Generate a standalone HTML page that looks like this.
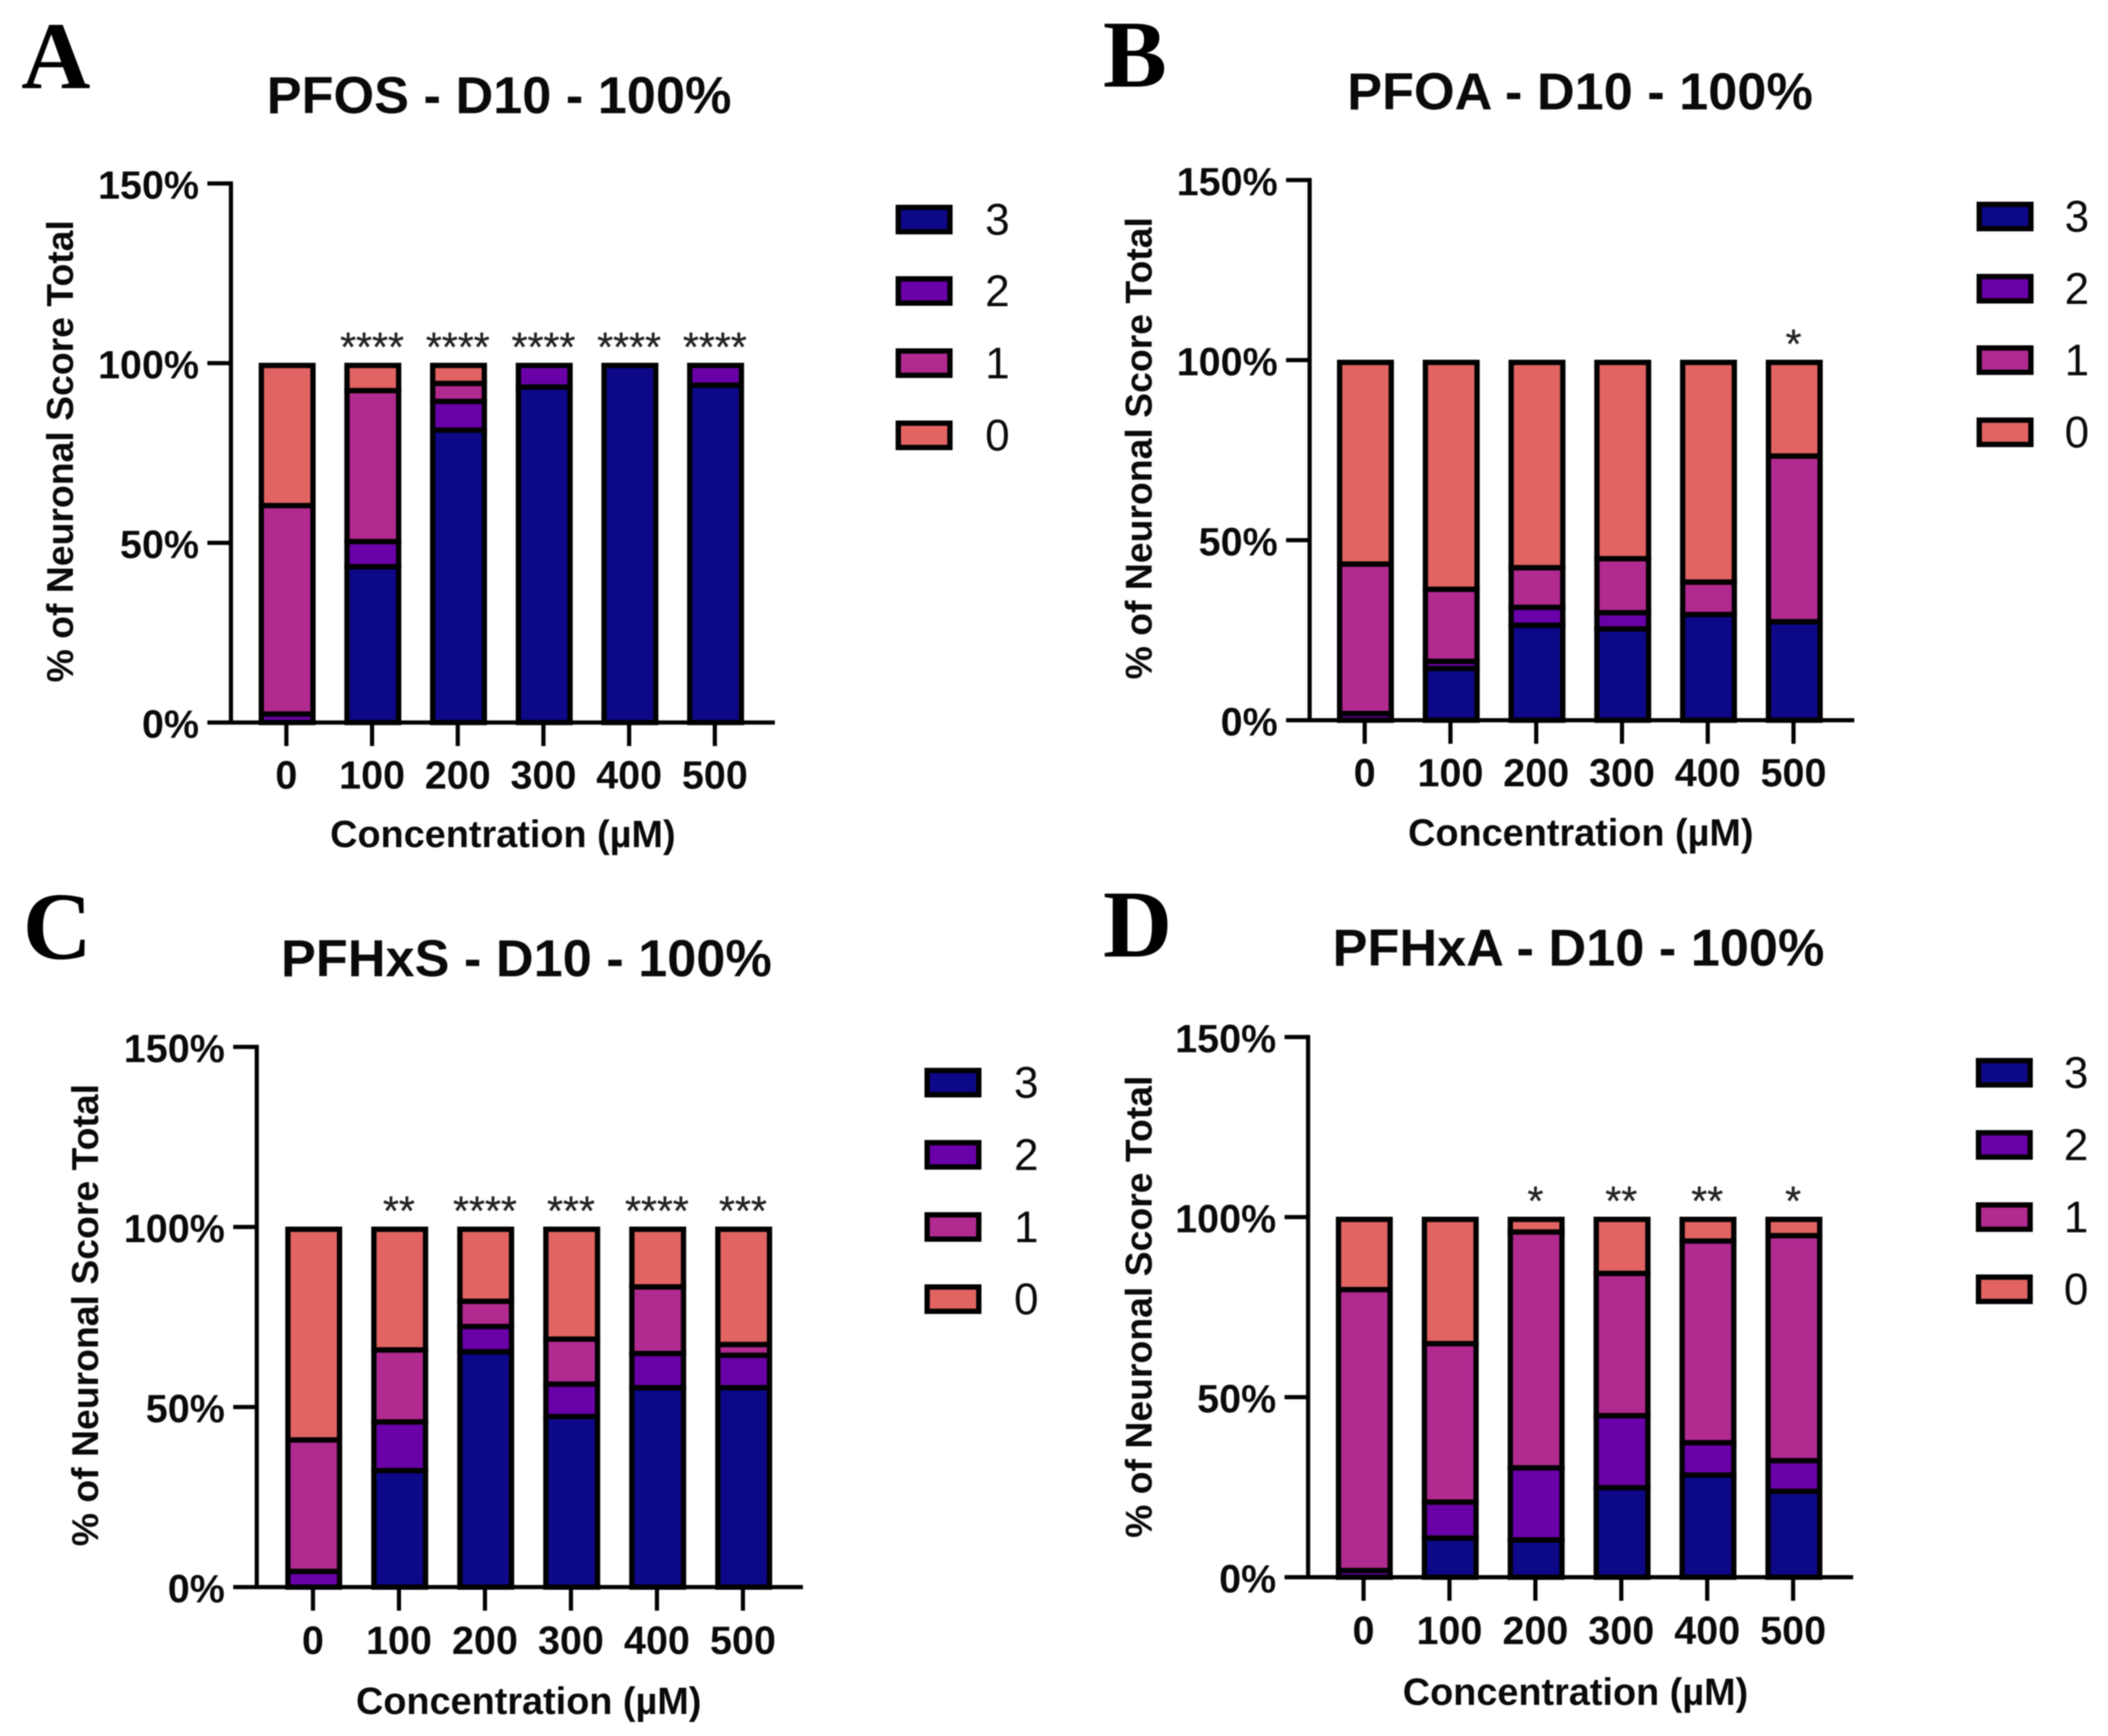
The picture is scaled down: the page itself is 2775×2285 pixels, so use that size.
<!DOCTYPE html>
<html lang="en">
<head>
<meta charset="utf-8">
<title>Neuronal score stacked bars</title>
<style>
html,body{margin:0;padding:0;background:#fff;width:2775px;height:2285px;overflow:hidden}
svg{display:block;filter:blur(0.7px)}
text{font-family:"Liberation Sans",Arial,sans-serif;fill:#0a0a0a}
.letter{font-family:"Liberation Serif","Times New Roman",serif;font-weight:700;font-size:126px;fill:#000}
.title{font-weight:700;font-size:68.8px;text-anchor:middle}
.ytitle{font-weight:700;font-size:49.2px;text-anchor:middle}
.xtitle{font-weight:700;font-size:49.8px;text-anchor:middle}
.tick{font-weight:700;font-size:52px}
.legend-label{font-size:58px;text-anchor:middle}
.stars{font-size:54px;text-anchor:middle;fill:#222;stroke:#222;stroke-width:.4}
</style>
</head>
<body>
<svg id="figure" xmlns="http://www.w3.org/2000/svg" width="2775" height="2285" viewBox="0 0 2775 2285">
  <rect x="0" y="0" width="2775" height="2285" fill="#ffffff"/>

  <g id="panel-a">
    <text class="letter" x="28" y="116">A</text>
    <text class="title" x="657" y="149">PFOS - D10 - 100%</text>
    <text class="ytitle" transform="translate(96 594) rotate(-90)">% of Neuronal Score Total</text>
    <text class="xtitle" x="662" y="1115">Concentration (µM)</text>
  </g>
  <g id="panel-b">
    <text class="letter" x="1452" y="114">B</text>
    <text class="title" x="2080" y="144">PFOA - D10 - 100%</text>
    <text class="ytitle" transform="translate(1516 590) rotate(-90)">% of Neuronal Score Total</text>
    <text class="xtitle" x="2081" y="1113">Concentration (µM)</text>
  </g>
  <g id="panel-c">
    <text class="letter" x="30" y="1262">C</text>
    <text class="title" x="693" y="1285">PFHxS - D10 - 100%</text>
    <text class="ytitle" transform="translate(129 1731) rotate(-90)">% of Neuronal Score Total</text>
    <text class="xtitle" x="696" y="2256">Concentration (µM)</text>
  </g>
  <g id="panel-d">
    <text class="letter" x="1452" y="1259">D</text>
    <text class="title" x="2078" y="1271">PFHxA - D10 - 100%</text>
    <text class="ytitle" transform="translate(1516 1720) rotate(-90)">% of Neuronal Score Total</text>
    <text class="xtitle" x="2074" y="2244">Concentration (µM)</text>
  </g>
</svg>

<script>
// ---- data (percent of total per score) ----
const categories = ['0', '100', '200', '300', '400', '500'];
const yTickValues = [0, 50, 100, 150];
const yTickLabels = ['0%', '50%', '100%', '150%'];
const legendScores = ['3', '2', '1', '0'];

const aScore3 = [0, 44, 82, 94, 100, 94.5];
const aScore2 = [3, 7, 8, 6, 0, 5.5];
const aScore1 = [58, 42, 5, 0, 0, 0];
const aScore0 = [39, 7, 5, 0, 0, 0];
const aStars = ['', '****', '****', '****', '****', '****'];

const bScore3 = [0, 15, 27, 26, 30, 28];
const bScore2 = [2.5, 2, 5, 4.5, 0, 0];
const bScore1 = [41.5, 20, 11, 15, 9, 46];
const bScore0 = [56, 63, 57, 54.5, 61, 26];
const bStars = ['', '', '', '', '', '*'];

const cScore3 = [0, 33, 66, 48, 56, 56];
const cScore2 = [5, 13.5, 7, 9, 9.5, 9];
const cScore1 = [36.5, 20, 7, 12.5, 18.5, 3];
const cScore0 = [58.5, 33.5, 20, 30.5, 16, 32];
const cStars = ['', '**', '****', '***', '****', '***'];

const dScore3 = [0, 11.5, 11, 25.5, 29, 24.5];
const dScore2 = [2.5, 10, 20, 20, 9, 8.5];
const dScore1 = [78, 44, 65.5, 39.5, 56, 62.5];
const dScore0 = [19.5, 34.5, 3.5, 15, 6, 4.5];
const dStars = ['', '', '*', '**', '**', '*'];

// ---- styling and layout, separate from the data ----
const scoreColors = { '3': '#0d0887', '2': '#6a00a8', '1': '#b12a90', '0': '#e16462' };
const SVGNS = 'http://www.w3.org/2000/svg';
const BAR_WIDTH = 68;
const BAR_STROKE = 7;
const AXIS_STROKE = 5.5;
const TICK_LEN = 31;
const LINE_SHIFT = 3;

const panels = [
  { id: 'a', series: [aScore3, aScore2, aScore1, aScore0], stars: aStars,
    axisX: 304, y0: 951, y100: 478, firstX: 377, lastX: 941, rightX: 1020, labelBase: 1038, starBase: 475,
    legendX: 1179, legendTextX: 1313, legendY: [289, 383, 478, 573] },
  { id: 'b', series: [bScore3, bScore2, bScore1, bScore0], stars: bStars,
    axisX: 1724, y0: 948, y100: 474, firstX: 1796.5, lastX: 2361, rightX: 2441, labelBase: 1035, starBase: 471,
    legendX: 2602, legendTextX: 2734, legendY: [285, 380, 474, 569] },
  { id: 'c', series: [cScore3, cScore2, cScore1, cScore0], stars: cStars,
    axisX: 338, y0: 2089, y100: 1615, firstX: 412, lastX: 978, rightX: 1057, labelBase: 2177, starBase: 1612,
    legendX: 1217, legendTextX: 1351, legendY: [1425, 1520, 1615, 1710] },
  { id: 'd', series: [dScore3, dScore2, dScore1, dScore0], stars: dStars,
    axisX: 1722, y0: 2076, y100: 1602, firstX: 1795, lastX: 2360.5, rightX: 2439.5, labelBase: 2164, starBase: 1599,
    legendX: 2601, legendTextX: 2733, legendY: [1412, 1507, 1602, 1697] }
];

function makeShape(tag, attrs, parent, text) {
  const node = document.createElementNS(SVGNS, tag);
  Object.keys(attrs).forEach(function (k) { node.setAttribute(k, attrs[k]); });
  if (text !== undefined) node.textContent = text;
  parent.appendChild(node);
  return node;
}

function xScale(p, i) {
  return p.firstX + i * (p.lastX - p.firstX) / (categories.length - 1);
}
function yScale(p, v) {
  return p.y0 + v * (p.y100 - p.y0) / 100;
}

function drawBars(p, g) {
  categories.forEach(function (cat, i) {
    let running = 0;
    p.series.forEach(function (values, s) {
      const v = values[i];
      if (v <= 0) return;
      const top = yScale(p, running + v) + LINE_SHIFT;
      const bottom = running === 0 ? p.y0 : yScale(p, running) + LINE_SHIFT;
      const seg = makeShape('rect', {
        x: xScale(p, i) - BAR_WIDTH / 2 + 1, y: top,
        width: BAR_WIDTH, height: Math.max(bottom - top, 0.5),
        fill: scoreColors[legendScores[s]], stroke: '#000', 'stroke-width': BAR_STROKE
      }, g);
      
      
      running += v;
    });
  });
}

function drawAxes(p, g) {
  const yAxis = makeShape('line', { x1: p.axisX, x2: p.axisX, y1: yScale(p, 150) - AXIS_STROKE / 2, y2: p.y0, stroke: '#000', 'stroke-width': AXIS_STROKE }, g);
  
  

  const xAxis = makeShape('line', { x1: p.axisX - TICK_LEN, x2: p.rightX, y1: p.y0, y2: p.y0, stroke: '#000', 'stroke-width': AXIS_STROKE }, g);
  
  

  yTickValues.forEach(function (v, i) {
    const y = yScale(p, v);
    if (v !== 0) {
      const t = makeShape('line', { x1: p.axisX - TICK_LEN, x2: p.axisX, y1: y, y2: y, stroke: '#000', 'stroke-width': AXIS_STROKE }, g);
      
      
    }
    const label = makeShape('text', { class: 'tick', x: p.axisX - 42, y: y + 20, 'text-anchor': 'end' }, g, yTickLabels[i]);
    
    
  });

  categories.forEach(function (cat, i) {
    const x = xScale(p, i);
    const t = makeShape('line', { x1: x, x2: x, y1: p.y0, y2: p.y0 + 31, stroke: '#000', 'stroke-width': AXIS_STROKE }, g);
    
    
    const label = makeShape('text', { class: 'tick', x: x, y: p.labelBase, 'text-anchor': 'middle' }, g, cat);
    
    
  });
}

function drawStars(p, g) {
  p.stars.forEach(function (mark, i) {
    if (!mark) return;
    const s = makeShape('text', { class: 'stars', x: xScale(p, i), y: p.starBase }, g, mark);
    
    
  });
}

function drawLegend(p, g) {
  legendScores.forEach(function (score, i) {
    const y = p.legendY[i];
    const sw = makeShape('rect', {
      x: p.legendX + 3.5, y: y - 16, width: 68, height: 32,
      fill: scoreColors[score], stroke: '#000', 'stroke-width': BAR_STROKE
    }, g);
    
    
    const label = makeShape('text', { class: 'legend-label', x: p.legendTextX, y: y + 20 }, g, score);
    
    
  });
}

panels.forEach(function (p) {
  const g = document.getElementById('panel-' + p.id);
  drawBars(p, g);
  drawAxes(p, g);
  drawStars(p, g);
  drawLegend(p, g);
});
</script>
</body>
</html>
